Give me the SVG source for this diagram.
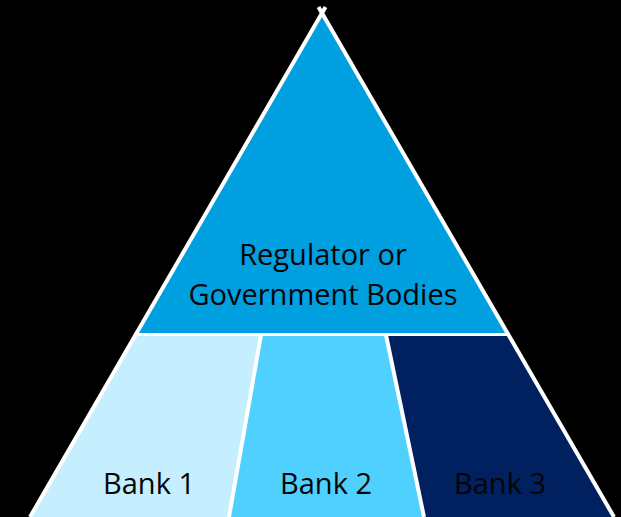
<svg xmlns="http://www.w3.org/2000/svg" width="621" height="517" viewBox="0 0 621 517">
<style>
.lbl{font-family:"Open Sans","Noto Sans",sans-serif;font-size:29px;fill:#050505;text-anchor:middle}
.edge{stroke:#ffffff;fill:none}
</style>
<rect x="0" y="0" width="621" height="517" fill="#000000"/>
<g id="regulator">
<polygon points="322,13 136,334 508,334" fill="#009fdf"/>
<text class="lbl" x="323" y="265">Regulator or</text>
<text class="lbl" x="323" y="305">Government Bodies</text>
</g>
<g id="bank1">
<polygon points="135,335 261,335 229,517 30,517" fill="#c5eefe"/>
<text class="lbl" x="149" y="494">Bank 1</text>
</g>
<g id="bank2">
<polygon points="261,335 386,335 424,517 229,517" fill="#4fd0fe"/>
<text class="lbl" x="326" y="494">Bank 2</text>
</g>
<g id="bank3">
<polygon points="386,335 509,335 614,517 424,517" fill="#00205f"/>
<text class="lbl" x="500" y="494">Bank 3</text>
</g>
<g id="connectors">
<line class="edge" x1="30" y1="517" x2="325.5" y2="7" stroke-width="4"/>
<line class="edge" x1="614" y1="517" x2="318.5" y2="7" stroke-width="4"/>
<line class="edge" x1="134" y1="334.5" x2="510" y2="334.5" stroke-width="3"/>
<line class="edge" x1="261" y1="335" x2="229" y2="517" stroke-width="4"/>
<line class="edge" x1="386" y1="335" x2="424" y2="517" stroke-width="4"/>
</g>
</svg>
